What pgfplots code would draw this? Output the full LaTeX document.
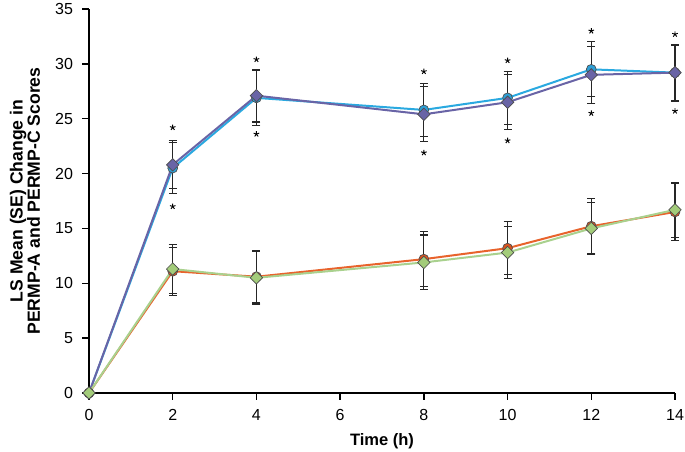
\documentclass[border=0pt]{standalone}
\usepackage{pgfplots}
\pgfplotsset{compat=1.18}
\usepackage{fontspec}
\setmainfont{Liberation Sans}
\definecolor{cyanL}{HTML}{2AA9E0}
\definecolor{cyanF}{HTML}{2E9FD6}
\definecolor{purp}{HTML}{6964A6}
\definecolor{orng}{HTML}{E8632C}
\definecolor{orngF}{HTML}{D9541F}
\definecolor{grn}{HTML}{A9D18E}
\definecolor{grnF}{HTML}{A3CC7A}
\begin{document}
\begin{tikzpicture}
\begin{axis}[
 name=ax,
 scale only axis, width=439.5pt, height=288pt,
 xmin=0, xmax=14, ymin=0, ymax=35,
 axis x line*=bottom, axis y line*=left,
 xtick={0,2,...,14}, ytick={0,5,...,35},
 tick align=outside, major tick length=5pt,
 tick style={black, line width=1pt},
 axis line style={black, line width=1pt},
 /pgf/number format/assume math mode=true,
 ticklabel style={font=\fontsize{12}{13}\selectfont},
 xticklabel style={yshift=-3.5pt},
 yticklabel style={xshift=-3.5pt},
 xlabel={Time (h)},
 xlabel style={font=\fontsize{12.4}{14}\selectfont\bfseries, at={(axis description cs:0.5,-0.125)}, anchor=center},
 ylabel={LS Mean (SE) Change in\\PERMP-A and PERMP-C Scores},
 ylabel style={align=center, font=\fontsize{13.2}{13}\selectfont\bfseries, at={(axis description cs:-0.1092,0.5)}, anchor=center},
 clip=false,
 error bars/error bar style={black!85, line width=0.8pt},
 error bars/error mark options={rotate=90, mark size=3pt, black!85, line width=0.8pt},
]
% cyan circles
\addplot[cyanL, line width=1.5pt, mark=*, mark size=3.7pt, mark options={fill=cyanF, draw=black!70, line width=0.5pt},
 error bars/.cd, y dir=both, y explicit] coordinates {
 (0,0) +- (0,0)
 (2,20.5) +- (0,2.3)
 (4,26.9) +- (0,2.5)
 (8,25.8) +- (0,2.4)
 (10,26.9) +- (0,2.4)
 (12,29.5) +- (0,2.5)
 (14,29.2) +- (0,2.5)
};
% purple diamonds
\addplot[purp, line width=1.5pt, mark=square*, mark size=3.3pt, mark options={rotate=45, fill=purp, draw=black!70, line width=0.5pt},
 error bars/.cd, y dir=both, y explicit] coordinates {
 (0,0) +- (0,0)
 (2,20.8) +- (0,2.2)
 (4,27.1) +- (0,2.4)
 (8,25.4) +- (0,2.5)
 (10,26.5) +- (0,2.5)
 (12,29.0) +- (0,2.6)
 (14,29.2) +- (0,2.6)
};
% orange circles
\addplot[orng, line width=1.5pt, mark=*, mark size=3.7pt, mark options={fill=orngF, draw=black!70, line width=0.5pt},
 error bars/.cd, y dir=both, y explicit] coordinates {
 (0,0) +- (0,0)
 (2,11.1) +- (0,2.2)
 (4,10.6) +- (0,2.4)
 (8,12.2) +- (0,2.5)
 (10,13.2) +- (0,2.4)
 (12,15.2) +- (0,2.5)
 (14,16.5) +- (0,2.6)
};
% green diamonds
\addplot[grn, line width=1.5pt, mark=square*, mark size=3.3pt, mark options={rotate=45, fill=grnF, draw=black!70, line width=0.5pt},
 error bars/.cd, y dir=both, y explicit] coordinates {
 (0,0) +- (0,0)
 (2,11.3) +- (0,2.2)
 (4,10.5) +- (0,2.4)
 (8,11.9) +- (0,2.5)
 (10,12.8) +- (0,2.4)
 (12,15.0) +- (0,2.4)
 (14,16.7) +- (0,2.5)
};
% asterisks
\addplot[only marks, mark=star, mark size=2.2pt, mark options={black, line width=0.7pt}] coordinates {
 (2,24.2) (2,17.0)
 (4,30.4) (4,23.6)
 (8,29.3) (8,21.9)
 (10,30.3) (10,23.0)
 (12,33.0) (12,25.5)
 (14,32.7) (14,25.7)
};
\end{axis}
\pgfresetboundingbox
\path[use as bounding box] ([shift={(-66.75pt,-44.25pt)}]ax.south west) rectangle ([shift={(7.5pt,6.75pt)}]ax.north east);
\end{tikzpicture}
\end{document}
